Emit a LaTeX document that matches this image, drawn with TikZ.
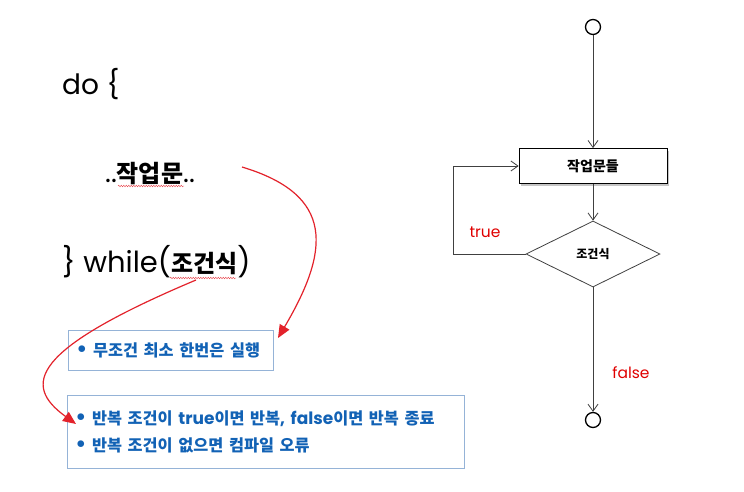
\documentclass[tikz,border=0pt]{standalone}
\usepackage{fontspec}
\setmainfont{Poppins}
\newfontfamily\kr{Noto Sans CJK KR}
\usetikzlibrary{arrows.meta,shapes.geometric,shadows,decorations.pathmorphing}
\definecolor{txtblue}{HTML}{1262B5}
\definecolor{boxblue}{HTML}{95B3D7}
\definecolor{arrred}{HTML}{E3222B}
\definecolor{lbred}{HTML}{E00000}
\definecolor{flowgray}{HTML}{404040}
\newcommand{\kb}[1]{{\kr\bfseries\fontsize{16.3}{28}\selectfont #1}}
\newcommand{\bul}{{\fontsize{22}{28}\selectfont •}}
\begin{document}
\begin{tikzpicture}[x=1pt,y=-1pt,
  code/.style={font=\fontsize{28}{30}\selectfont, inner sep=0pt},
  bluebox/.style={draw=boxblue, line width=0.8pt, text=txtblue, align=left,
     inner xsep=8pt, inner ysep=0pt, anchor=north west,
     font=\bfseries\fontsize{17}{28}\selectfont},
  redarrow/.style={draw=arrred, line width=1.2pt, -{Triangle[length=13pt,width=11pt]}},
  wavy/.style={draw=arrred!80, line width=0.4pt, decorate,
     decoration={snake, amplitude=0.8pt, segment length=2.5pt}},
  circ/.style={circle, draw=black, line width=1.3pt, minimum size=15pt, inner sep=0pt},
  proc/.style={rectangle, draw=black, fill=white, line width=0.8pt,
     minimum width=148pt, minimum height=35pt, inner sep=0pt,
     drop shadow={shadow xshift=2pt, shadow yshift=-2pt, fill=black!45},
     font=\kr\bfseries\fontsize{14}{16}\selectfont},
  dia/.style={diamond, draw=flowgray, fill=white, line width=0.8pt, aspect=2,
     minimum width=134pt, minimum height=66pt, inner sep=0pt,
     font=\kr\bfseries\fontsize{12}{14}\selectfont},
  flow/.style={draw=flowgray, line width=0.8pt, -{Straight Barb[length=7pt,width=10pt]}},
  lbl/.style={text=lbred, font=\fontsize{15.5}{17}\selectfont, inner sep=0pt}]
\useasboundingbox (0,0) rectangle (744,492);
\fill[white] (0,0) rectangle (744,492);

% code
\node[code, anchor=base west] (do) at (62,95) {do \{};
\node[code, anchor=base] (work) at (150,182) {..{\kr\bfseries\fontsize{24}{26}\selectfont 작업문}..};
\node[code, anchor=base west, font=\fontsize{29}{32}\selectfont] (wh) at (62,272)
  {\} while({\kr\bfseries\fontsize{24}{26}\selectfont 조건식})};
\coordinate (w1a) at (118,186);
\coordinate (w1b) at (184,186);
\coordinate (w2a) at (170,278);
\coordinate (w2b) at (236,278);
\draw[wavy] (w1a) -- (w1b);
\draw[wavy] (w2a) -- (w2b);

% boxes
\node[bluebox, text width=189pt, minimum height=40pt] (b1) at (68,330)
  {\bul\ \kb{무조건 최소 한번은 실행}};
\node[bluebox, text width=381pt, minimum height=73pt] (b2) at (67,395)
  {\bul\ \kb{반복 조건이} true\kb{이면 반복}, false\kb{이면 반복 종료}\\
   \bul\ \kb{반복 조건이 없으면 컴파일 오류}};

% red arrows
\coordinate (r1s) at (242,167);
\coordinate (r1e) at (278,338);
\coordinate (r2s) at (196,280);
\coordinate (r2e) at (76,424);
\draw[redarrow] (r1s) .. controls (335,195) and (330,250) .. (r1e);
\draw[redarrow] (r2s) .. controls (30,350) and (22,385) .. (r2e);

% flowchart
\node[circ] (start) at (593,27) {};
\node[proc] (proc) at (593,166) {작업문들};
\node[dia] (cond) at (593,254) {조건식};
\node[circ] (end) at (593,420) {};
\coordinate (loop) at (453,254);
\draw[flow] (start) -- (proc);
\draw[flow] (proc) -- (cond);
\draw[flow] (cond) -- (end);
\draw[flow] (cond.west) -- (loop) |- (proc.west);
\node[lbl] (t) at (485,232) {true};
\node[lbl] (f) at (631,373) {false};
\end{tikzpicture}
\end{document}
